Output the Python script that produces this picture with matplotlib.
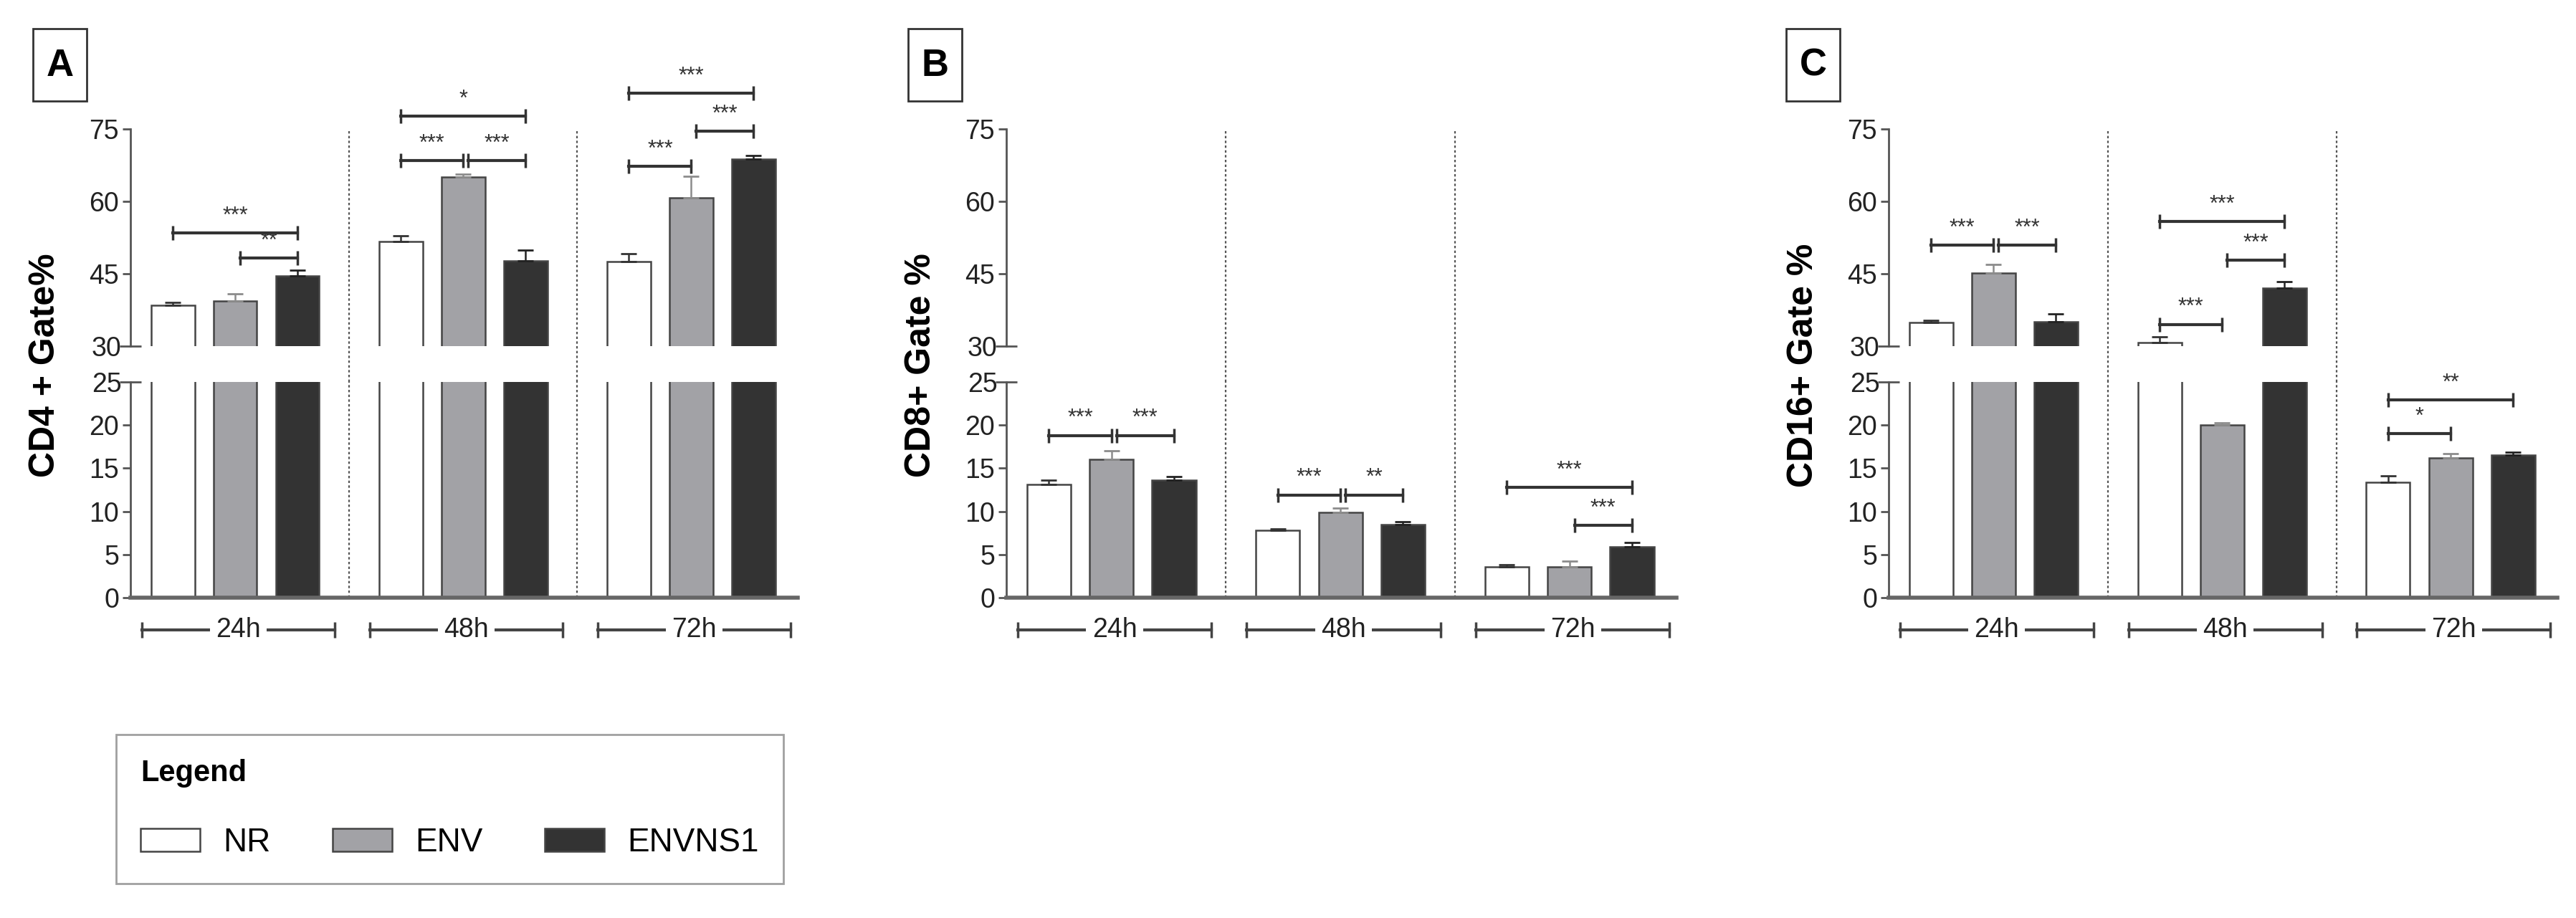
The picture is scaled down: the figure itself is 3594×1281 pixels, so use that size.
import numpy as np
import matplotlib
matplotlib.use("Agg")
import matplotlib.pyplot as plt
from matplotlib import font_manager
from matplotlib.patches import Rectangle
from matplotlib.transforms import blended_transform_factory

# data (mean and upper SEM), rows = time point, cols = group
groups = ["24h", "48h", "72h"]
series = ["NR", "ENV", "ENVNS1"]

cd4_mean = [[38.5, 39.3, 44.5], [51.7, 65.1, 47.7], [47.5, 60.7, 68.7]]
cd4_err = [[0.5, 1.5, 1.2], [1.2, 0.6, 2.2], [1.7, 4.5, 0.8]]
cd8_mean = [[13.1, 16.0, 13.6], [7.8, 9.9, 8.5], [3.6, 3.6, 5.9]]
cd8_err = [[0.5, 1.0, 0.4], [0.15, 0.5, 0.3], [0.25, 0.6, 0.5]]
cd16_mean = [[34.9, 45.1, 35.1], [30.8, 20.0, 42.0], [13.4, 16.2, 16.5]]
cd16_err = [[0.5, 1.8, 1.6], [1.2, 0.3, 1.3], [0.7, 0.5, 0.4]]

# significance: (time point, group a, group b, height, label)
cd4_sig = [(0, 0, 2, 53.5, "***"), (0, 1, 2, 48.3, "**"), (1, 0, 2, 77.7, "*"),
           (1, 0, 1, 68.5, "***"), (1, 1, 2, 68.5, "***"), (2, 0, 2, 82.4, "***"),
           (2, 1, 2, 74.5, "***"), (2, 0, 1, 67.3, "***")]
cd8_sig = [(0, 0, 1, 18.8, "***"), (0, 1, 2, 18.8, "***"), (1, 0, 1, 11.9, "***"),
           (1, 1, 2, 11.9, "**"), (2, 0, 2, 12.8, "***"), (2, 1, 2, 8.4, "***")]
cd16_sig = [(0, 0, 1, 50.9, "***"), (0, 1, 2, 50.9, "***"), (1, 0, 2, 55.8, "***"),
            (1, 1, 2, 47.8, "***"), (1, 0, 1, 34.5, "***"), (2, 0, 2, 22.9, "**"),
            (2, 0, 1, 19.0, "*")]

names = {f.name for f in font_manager.fontManager.ttflist}
NARROW = "Liberation Sans Narrow" if "Liberation Sans Narrow" in names else "Liberation Sans"
plt.rcParams["font.family"] = [NARROW, "DejaVu Sans"]

W, H = 3594, 1281
fig = plt.figure(figsize=(W / 100, H / 100), dpi=100)

def fx(p):
    return p / W

def fy(p):
    return 1 - p / H

fills = ["white", "#a2a2a6", "#333333"]
ecolors = ["#333333", "#8c8c8c", "#222222"]
AXC = "#555555"
P = 3.66   # group pitch
BW = 0.7
Y75, Y30, Y25, Y0 = 180, 483, 533, 834


def panel(left, right, letter, ylabel, ylab_x, box_x, mean, err, sig):
    top = fig.add_axes([fx(left), fy(Y30), (right - left) / W, (Y30 - Y75) / H])
    bot = fig.add_axes([fx(left), fy(Y0), (right - left) / W, (Y0 - Y25) / H])
    mean = np.array(mean)
    err = np.array(err)
    handles = []
    for ax in (top, bot):
        for s in range(3):
            xs = np.arange(3) * P + s
            b = ax.bar(xs, mean[:, s], BW, color=fills[s], edgecolor="#444444", lw=1.8, zorder=2)
            ax.errorbar(xs, mean[:, s], yerr=[np.zeros(3), err[:, s]], fmt="none",
                        ecolor=ecolors[s], elinewidth=1.8, capsize=8, capthick=2, zorder=3)
            if ax is top:
                handles.append(b)
        ax.set_xlim(-0.68, 10.03)
        ax.set_xticks([])
        for sp in ("top", "right"):
            ax.spines[sp].set_visible(False)
        ax.spines["left"].set_color(AXC)
        ax.spines["left"].set_linewidth(2)
        ax.tick_params(axis="y", which="both", colors=AXC, labelcolor="#222222",
                       labelsize=27, width=2, length=8)
    top.set_ylim(30, 75)
    bot.set_ylim(0, 25)
    top.spines["bottom"].set_visible(False)
    bot.spines["bottom"].set_color("#666666")
    bot.spines["bottom"].set_linewidth(4)
    top.set_yticks([45, 60, 75])
    top.set_yticks([30], labels=["30"], minor=True)
    bot.set_yticks([0, 5, 10, 15, 20])
    bot.set_yticks([25], labels=["25"], minor=True)
    for ax in (top, bot):
        ax.tick_params(axis="y", which="minor", direction="inout", length=22, pad=-2,
                       labelsize=27)

    # dotted separators between time points
    gap = (Y25 - Y30) / (Y30 - Y75)
    for xsep in (2 + (P - 2) / 2, P + 2 + (P - 2) / 2):
        top.axvline(xsep, ymin=-gap, ymax=1, ls=(0, (1.5, 1.5)), color="#555555",
                    lw=1.6, clip_on=False, zorder=1)
        bot.axvline(xsep, ls=(0, (1.5, 1.5)), color="#555555", lw=1.6, zorder=1)

    # time point brackets below the axis
    tr = blended_transform_factory(bot.transData, bot.transAxes)
    for g, name in enumerate(groups):
        x0, x1 = g * P - 0.5, g * P + 2.6
        bot.plot([x0, x1], [-0.15, -0.15], color="#444444", lw=3, transform=tr,
                 clip_on=False, marker="|", markevery=[0, 1], ms=16, mew=2.5)
        bot.text((x0 + x1) / 2, -0.15, name, transform=tr, ha="center", va="center",
                 fontsize=27, color="#222222",
                 bbox=dict(facecolor="white", edgecolor="none", pad=6))

    # significance brackets
    for g, a, b, y, lab in sig:
        ax = top if y >= 30 else bot
        xa = g * P + a + (0.08 if a == 1 else 0)
        xb = g * P + b
        ax.plot([xa, xb], [y, y], color="#333333", lw=3, clip_on=False, zorder=4,
                marker="|", markevery=[0, 1], ms=14, mew=2.5)
        ax.annotate(lab, ((xa + xb) / 2, y), xytext=(0, 6), textcoords="offset points",
                    ha="center", va="bottom", fontsize=22, color="#333333",
                    annotation_clip=False)

    fig.text(fx(ylab_x), fy(510), ylabel, rotation=90, ha="center", va="center",
             fontsize=36, fontweight="bold", family=["Liberation Sans", "DejaVu Sans"])
    fig.add_artist(Rectangle((fx(box_x), fy(141)), 75 / W, 101 / H, transform=fig.transFigure,
                             fill=False, edgecolor="#333333", lw=2))
    fig.text(fx(box_x + 37.5), fy(92), letter, ha="center", va="center", fontsize=38,
             fontweight="bold", family=["Liberation Sans", "DejaVu Sans"])
    return handles


h = panel(182, 1113, "A", "CD4 + Gate%", 63, 46, cd4_mean, cd4_err, cd4_sig)
panel(1404, 2339, "B", "CD8+ Gate %", 1285, 1267, cd8_mean, cd8_err, cd8_sig)
panel(2635, 3568, "C", "CD16+ Gate %", 2516, 2492, cd16_mean, cd16_err, cd16_sig)

leg = fig.legend(h, series, loc="upper left", bbox_to_anchor=(fx(162), fy(1025)),
                 ncol=3, title="Legend", alignment="left", fontsize=33,
                 title_fontproperties={"weight": "bold", "size": 30,
                                       "family": ["Liberation Sans", "DejaVu Sans"]},
                 frameon=True, fancybox=False, edgecolor="#888888",
                 handlelength=1.8, handleheight=0.7, handletextpad=0.7,
                 columnspacing=1.9, borderpad=0.75, labelspacing=1.2, borderaxespad=0)
leg.get_frame().set_linewidth(2)

fig.savefig("out.png", dpi=100, facecolor="white")
